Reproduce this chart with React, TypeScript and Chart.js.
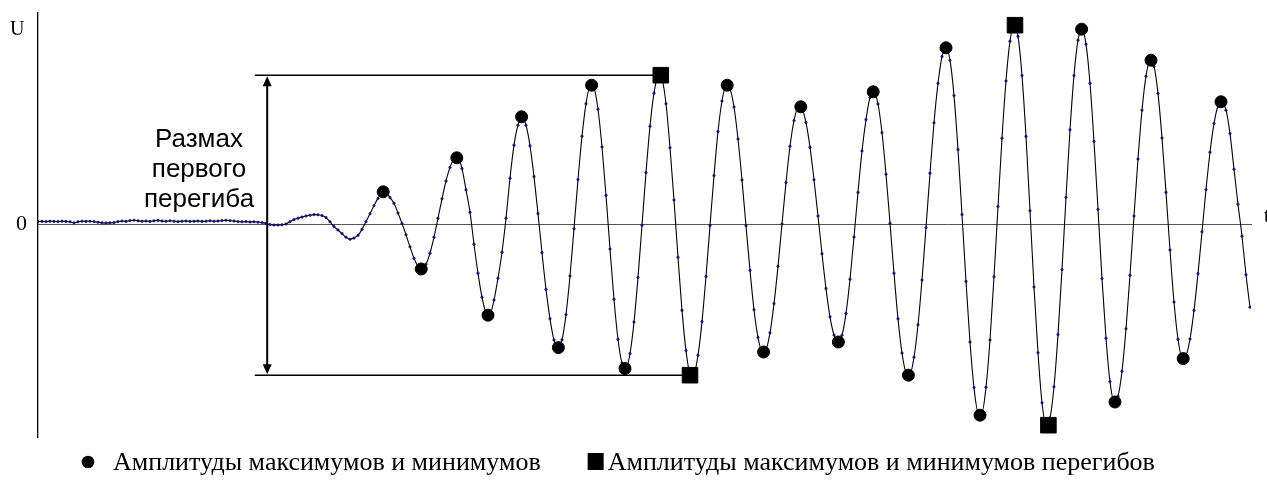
import React, { useEffect, useRef } from 'react';
import { Chart, registerables } from 'chart.js';

Chart.register(...registerables);

// Recorded signal U(t), one sample per time step (t = 0, 1, 2, ...)
const SIGNAL_U: number[] = [
  1.3, 1.4, 1.3, 1.5, 1.4, 1.3, 1.5, 1.4, 1.2, 0.7,
  1.2, 1.5, 1.4, 1.5, 1.3, 1.0, 0.7, 0.6, 0.7, 0.8,
  1.3, 1.6, 1.4, 1.8, 2.0, 1.7, 1.5, 1.6, 1.4, 1.7,
  1.9, 1.6, 1.5, 1.7, 1.5, 1.3, 1.5, 1.6, 1.4, 1.5,
  1.6, 1.4, 1.5, 1.7, 1.5, 1.6, 1.8, 2.0, 1.8, 1.6,
  1.3, 1.2, 1.3, 1.1, 1.2, 1.0, 0.8, 0.4, -0.2, -0.4,
  -0.4, -0.3, 0.1, 1.2, 2.3, 3.0, 3.6, 4.1, 4.5, 4.8,
  4.7, 4.3, 3.3, 1.2, -1.2, -2.9, -4.7, -6.5, -7.5, -6.9,
  -5.6, -2.6, 1.3, 5.2, 9.3, 12.9, 15.8, 15.7, 13.3, 10.5,
  5.6, 0.4, -5.3, -11.3, -17.0, -21.0, -22.4, -20.0, -14.5, -6.5,
  3.0, 12.7, 21.6, 28.4, 32.4, 32.9, 27.8, 17.2, 6.0, -10.0,
  -24.5, -36.5, -44.0, -44.6, -37.9, -27.0, -14.0, 3.0, 23.0, 39.5,
  49.5, 53.6, 49.5, 39.2, 23.8, 5.3, -14.3, -32.6, -47.3, -57.9,
  -61.7, -57.8, -45.2, -25.9, -2.3, 22.3, 44.0, 60.2, 68.7, 67.8,
  57.5, 38.6, 14.4, -12.4, -37.5, -57.5, -69.4, -71.9, -64.7, -48.9,
  -26.6, -0.5, 25.8, 49.0, 65.5, 73.8, 72.3, 60.2, 38.2, 12.1,
  -16.5, -43.1, -63.2, -74.1, -74.3, -65.5, -48.7, -26.1, -0.7, 24.3,
  46.3, 61.6, 69.1, 67.6, 58.6, 42.6, 22.1, -0.8, -23.1, -42.8,
  -56.6, -63.4, -62.4, -54.3, -39.7, -21.1, 0.1, 20.8, 39.0, 51.8,
  58.2, 57.5, 50.8, 38.5, 22.2, 4.1, -14.8, -32.2, -46.3, -55.4,
  -58.9, -55.5, -44.6, -27.5, -6.4, 15.9, 36.6, 52.3, 63.4, 66.1,
  60.1, 45.7, 25.0, 0.5, -24.5, -47.3, -64.4, -73.9, -74.7, -66.5,
  -50.3, -27.9, -1.7, 25.5, 50.7, 70.4, 83.8, 88.2, 82.0, 64.3,
  37.3, 4.8, -28.6, -58.9, -81.7, -93.8, -93.9, -81.5, -57.9, -26.3,
  8.8, 43.0, 71.6, 91.5, 99.5, 93.9, 74.3, 43.9, 6.7, -31.4,
  -64.3, -89.3, -100.1, -96.9, -81.3, -55.2, -22.7, 13.4, 47.2, 74.3,
  92.0, 97.5, 90.0, 70.5, 41.4, 7.5, -27.2, -57.0, -78.7, -88.5,
  -86.0, -73.5, -52.3, -25.5, 4.1, 32.6, 57.0, 74.0, 81.7, 78.9,
  65.4, 43.1, 15.9, -12.9, -38.9, -57.5, -66.6, -65.5, -57.4, -43.1,
  -24.7, -3.8, 17.3, 36.0, 50.3, 59.1, 61.0, 57.0, 45.3, 27.5,
  10.0, -6.0, -25.3, -41.5,
];

// Amplitudes of maxima and minima (circles)
const PEAK_T: number[] = [86.3, 95.8, 104.7, 112.5, 120.9, 130.1, 138.4, 146.75, 172.3, 181.4, 190.7, 200.1, 208.8, 217.6, 227.0, 235.5, 260.9, 269.25, 278.25, 286.3, 295.75];
const PEAK_U: number[] = [16.2, -22.4, 33.2, -45.5, 53.7, -61.7, 69.5, -72.2, 69.5, -63.9, 58.7, -58.9, 66.2, -75.5, 88.2, -95.5, 97.5, -88.9, 82.0, -67.2, 61.2];

// Amplitudes of maxima and minima of the bends (squares)
const BEND_T: number[] = [155.7, 163.0, 244.25, 252.6];
const BEND_U: number[] = [74.5, -75.5, 99.5, -100.5];

const LEGEND_LABELS: string[] = ['Амплитуды максимумов и минимумов', 'Амплитуды максимумов и минимумов перегибов'];
const SPAN_LABEL: string[] = ['Размах', 'первого', 'перегиба'];
const Y_TICKS: number[] = [0];
const Y_TITLE = 'U';
const X_TITLE = 't';

const T_MAX = 303.25;
const U_MIN = -106.4;
const U_MAX = 105.6;
const SPAN_ARROW_T = 57.3;
const SPAN_START_T = 54.2;
const SPAN_LABEL_T = 40.25;
const SPAN_LABEL_U = 38.6;

const SERIF = '"Liberation Serif", "Times New Roman", serif';
const SANS = '"Liberation Sans", Arial, sans-serif';

const overlayPlugin = {
  id: 'overlay',
  beforeDatasetsDraw(chart: any) {
    const { ctx } = chart;
    const x = chart.scales.x;
    const y = chart.scales.y;
    const xa = x.getPixelForValue(SPAN_ARROW_T);
    const xs = x.getPixelForValue(SPAN_START_T);
    const yTop = y.getPixelForValue(BEND_U[0]);
    const yBot = y.getPixelForValue(BEND_U[1]);
    ctx.save();
    ctx.strokeStyle = '#000';
    ctx.lineWidth = 1.6;
    ctx.beginPath();
    ctx.moveTo(xs, yTop);
    ctx.lineTo(x.getPixelForValue(BEND_T[0]), yTop);
    ctx.moveTo(xs, yBot);
    ctx.lineTo(x.getPixelForValue(BEND_T[1]), yBot);
    ctx.stroke();
    ctx.lineWidth = 2;
    ctx.beginPath();
    ctx.moveTo(xa, yTop + 8);
    ctx.lineTo(xa, yBot - 8);
    ctx.stroke();
    ctx.fillStyle = '#000';
    ctx.beginPath();
    ctx.moveTo(xa, yTop + 1);
    ctx.lineTo(xa - 4.5, yTop + 11);
    ctx.lineTo(xa + 4.5, yTop + 11);
    ctx.closePath();
    ctx.fill();
    ctx.beginPath();
    ctx.moveTo(xa, yBot - 1);
    ctx.lineTo(xa - 4.5, yBot - 11);
    ctx.lineTo(xa + 4.5, yBot - 11);
    ctx.closePath();
    ctx.fill();

    // span label
    ctx.font = `26px ${SANS}`;
    ctx.textAlign = 'center';
    ctx.textBaseline = 'alphabetic';
    const lx = x.getPixelForValue(SPAN_LABEL_T);
    const ly = y.getPixelForValue(SPAN_LABEL_U);
    SPAN_LABEL.forEach((s, i) => ctx.fillText(s, lx, ly + i * 30));
    ctx.restore();
  },
  afterDraw(chart: any) {
    const { ctx, chartArea } = chart;
    const y = chart.scales.y;
    ctx.save();
    ctx.fillStyle = '#000';
    ctx.textBaseline = 'alphabetic';
    // axis titles
    ctx.font = `20px ${SERIF}`;
    ctx.textAlign = 'left';
    ctx.fillText(Y_TITLE, 10, chartArea.top + 22);
    ctx.fillText(X_TITLE, chartArea.right + 13, y.getPixelForValue(0) - 2);

    // legend
    ctx.font = `26px ${SERIF}`;
    const base = 470;
    const x0 = 82;
    ctx.beginPath();
    ctx.arc(x0 + 6, base - 8, 6.3, 0, Math.PI * 2);
    ctx.fill();
    const t1 = x0 + 31;
    ctx.fillText(LEGEND_LABELS[0], t1, base);
    const w1 = ctx.measureText(LEGEND_LABELS[0]).width;
    const sq = t1 + w1 + 47;
    ctx.fillRect(sq, base - 17, 16, 17);
    ctx.fillText(LEGEND_LABELS[1], sq + 20, base);
    ctx.restore();
  },
};

export default function App() {
  const ref = useRef<HTMLCanvasElement>(null);

  useEffect(() => {
    const canvas = ref.current;
    if (!canvas) return;
    const chart = new Chart(canvas, {
      type: 'line',
      data: {
        datasets: [
          {
            type: 'scatter',
            label: LEGEND_LABELS[0],
            data: PEAK_T.map((t, i) => ({ x: t, y: PEAK_U[i] })),
            pointStyle: 'circle',
            pointRadius: 6,
            pointBackgroundColor: '#000',
            pointBorderColor: '#000',
            pointBorderWidth: 1,
            showLine: false,
            order: 0,
          } as any,
          {
            type: 'scatter',
            label: LEGEND_LABELS[1],
            data: BEND_T.map((t, i) => ({ x: t, y: BEND_U[i] })),
            pointStyle: 'rect',
            pointRadius: 11,
            pointBackgroundColor: '#000',
            pointBorderColor: '#000',
            pointBorderWidth: 1,
            showLine: false,
            order: 1,
          } as any,
          {
            type: 'line',
            label: 'U(t)',
            data: SIGNAL_U.map((u, i) => ({ x: i, y: u })),
            borderColor: '#000',
            borderWidth: 1.1,
            pointRadius: 1.3,
            pointBackgroundColor: '#16167e',
            pointBorderColor: '#0b0b50',
            pointBorderWidth: 0.4,
            cubicInterpolationMode: 'monotone',
            fill: false,
            order: 2,
          } as any,
        ],
      },
      options: {
        responsive: false,
        animation: false,
        events: [],
        layout: { padding: { top: 13, bottom: 45, left: 0, right: 16 } },
        plugins: {
          legend: { display: false },
          tooltip: { enabled: false },
        },
        scales: {
          x: {
            type: 'linear',
            min: 0,
            max: T_MAX,
            position: { y: 0 } as any,
            grid: { display: false, drawTicks: false },
            ticks: { display: false },
            border: { display: true, color: '#555', width: 1 },
          },
          y: {
            type: 'linear',
            min: U_MIN,
            max: U_MAX,
            position: 'left',
            grid: { display: false, drawTicks: false },
            border: { display: true, color: '#000', width: 1.3 },
            ticks: {
              color: '#000',
              padding: 11,
              font: { family: SERIF, size: 22 },
              callback: (v: any) => String(v),
            },
            afterBuildTicks: (s: any) => {
              s.ticks = Y_TICKS.map((v) => ({ value: v }));
            },
            afterFit: (s: any) => {
              s.width = 38;
              s.paddingTop = 0;
              s.paddingBottom = 0;
            },
          },
        },
      } as any,
      plugins: [overlayPlugin],
    });
    return () => chart.destroy();
  }, []);

  return (
    <div style={{ position: 'fixed', left: 0, top: 0, width: 1267, height: 482, background: '#fff' }}>
      <canvas ref={ref} width={1267} height={482} style={{ display: 'block', width: 1267, height: 482 }} />
    </div>
  );
}
